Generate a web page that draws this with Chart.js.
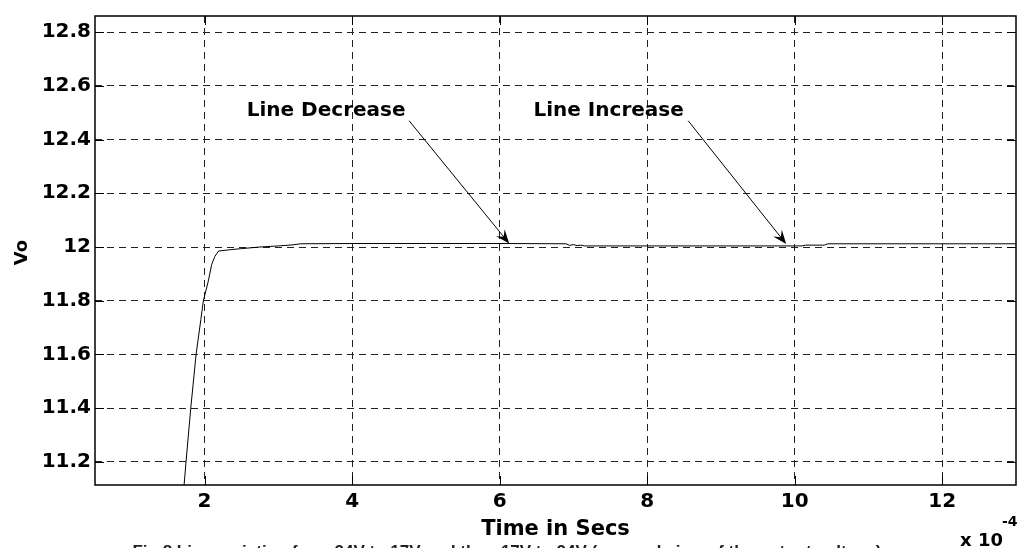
<!DOCTYPE html>
<html>
<head>
<meta charset="utf-8">
<script src="https://cdn.jsdelivr.net/npm/chart.js@4.4.1/dist/chart.umd.min.js"></script>
<style>
  html, body { margin: 0; padding: 0; background: #fff; }
  #wrap { width: 1019px; height: 548px; position: relative; }
</style>
</head>
<body>
<div id="wrap"><canvas id="c" width="1019" height="548"></canvas></div>
<script>
// ---- data (time in units of 1e-4 s, output voltage Vo in volts) ----
const timeValues = [1.70, 1.749, 1.813, 1.885, 1.95, 1.984, 2.05, 2.097, 2.14, 2.19, 2.35, 2.5, 2.75, 3.0, 3.2, 3.3, 4.0, 5.0, 6.1, 6.9, 6.95, 7.0, 7.05, 7.1, 7.15, 8.0, 9.0, 10.1, 10.15, 10.4, 10.45, 13.0];
const voValues   = [11.04, 11.2, 11.4, 11.6, 11.73, 11.8, 11.872, 11.935, 11.965, 11.985, 11.99, 11.994, 12.0, 12.004, 12.008, 12.012, 12.013, 12.013, 12.013, 12.012, 12.006, 12.009, 12.005, 12.007, 12.004, 12.004, 12.004, 12.004, 12.007, 12.007, 12.012, 12.012];
const xTickValues = [2, 4, 6, 8, 10, 12];
const yTickValues = [11.2, 11.4, 11.6, 11.8, 12, 12.2, 12.4, 12.6, 12.8];
const xRange = [0.515, 13.0];
const yRange = [11.114, 12.86];
const xAxisTitle = 'Time in Secs';
const yAxisTitle = 'Vo';
const xExponent = ['x 10', '-4'];
const caption = 'Fig.8 Line variation from 24V to 17V and then 17V to 24V (zoomed view of the output voltage)';
const annotations = [
  { text: 'Line Decrease', textX: 2.572, textY: 12.488, fromX: 4.773, fromY: 12.47, toX: 6.13, toY: 12.013 },
  { text: 'Line Increase', textX: 6.459, textY: 12.488, fromX: 8.556, fromY: 12.47, toX: 9.885, toY: 12.011 }
];

const points = timeValues.map((t, i) => ({ x: t, y: voValues[i] }));
const tickFont = { family: 'DejaVu Sans', size: 20, weight: 'bold' };

const decorPlugin = {
  id: 'decor',
  afterDraw(chart) {
    const { ctx, chartArea: { left, top, right, bottom }, scales: { x, y } } = chart;
    ctx.save();
    // axes box
    ctx.strokeStyle = '#000';
    ctx.lineWidth = 1.5;
    ctx.setLineDash([]);
    ctx.strokeRect(left, top, right - left, bottom - top);
    // inward tick marks on all sides
    ctx.lineWidth = 1;
    const tl = 9;
    ctx.beginPath();
    xTickValues.forEach(v => {
      const px = Math.round(x.getPixelForValue(v)) + 0.5;
      ctx.moveTo(px, bottom); ctx.lineTo(px, bottom - tl);
      ctx.moveTo(px, top); ctx.lineTo(px, top + tl);
    });
    yTickValues.forEach(v => {
      const py = Math.round(y.getPixelForValue(v)) + 0.5;
      ctx.moveTo(left, py); ctx.lineTo(left + tl, py);
      ctx.moveTo(right, py); ctx.lineTo(right - tl, py);
    });
    ctx.stroke();

    // annotations with arrows
    ctx.fillStyle = '#000';
    ctx.font = 'bold 20px "DejaVu Sans"';
    ctx.textAlign = 'left';
    ctx.textBaseline = 'alphabetic';
    annotations.forEach(a => {
      ctx.fillText(a.text, x.getPixelForValue(a.textX), y.getPixelForValue(a.textY));
      const x0 = x.getPixelForValue(a.fromX), y0 = y.getPixelForValue(a.fromY);
      const x1 = x.getPixelForValue(a.toX), y1 = y.getPixelForValue(a.toY);
      const dx = x1 - x0, dy = y1 - y0, len = Math.hypot(dx, dy);
      const ux = dx / len, uy = dy / len, nx = -uy, ny = ux;
      const L = 14, W = 5.5;
      ctx.beginPath();
      ctx.lineWidth = 1;
      ctx.moveTo(x0, y0);
      ctx.lineTo(x1 - ux * L * 0.6, y1 - uy * L * 0.6);
      ctx.stroke();
      ctx.beginPath();
      ctx.moveTo(x1, y1);
      ctx.lineTo(x1 - ux * L + nx * W, y1 - uy * L + ny * W);
      ctx.lineTo(x1 - ux * L * 0.62, y1 - uy * L * 0.62);
      ctx.lineTo(x1 - ux * L - nx * W, y1 - uy * L - ny * W);
      ctx.closePath();
      ctx.fill();
    });

    // x axis title
    ctx.font = 'bold 21px "DejaVu Sans"';
    ctx.textAlign = 'center';
    ctx.fillText(xAxisTitle, (left + right) / 2, 535);
    // y axis title (rotated)
    ctx.save();
    ctx.translate(27, (top + bottom) / 2 + 2);
    ctx.rotate(-Math.PI / 2);
    ctx.font = 'bold 18px "DejaVu Sans"';
    ctx.textAlign = 'center';
    ctx.fillText(yAxisTitle, 0, 0);
    ctx.restore();
    // exponent
    ctx.font = 'bold 18px "DejaVu Sans"';
    ctx.textAlign = 'right';
    ctx.fillText(xExponent[0], 1003, 546);
    ctx.font = 'bold 14px "DejaVu Sans"';
    ctx.textAlign = 'left';
    ctx.fillText(xExponent[1], 1002, 526);
    // caption (cut at the bottom edge as in the source)
    ctx.font = 'bold 17px "Liberation Sans"';
    ctx.textAlign = 'center';
    ctx.fillStyle = '#222';
    ctx.fillText(caption, 507, 557);
    ctx.restore();
  }
};

new Chart(document.getElementById('c'), {
  type: 'line',
  data: {
    datasets: [{
      data: points,
      borderColor: '#000',
      borderWidth: 1,
      pointRadius: 0,
      tension: 0,
      fill: false
    }]
  },
  options: {
    responsive: false,
    animation: false,
    devicePixelRatio: 1,
    layout: { padding: { left: 0, top: 10, right: 3, bottom: 0 } },
    plugins: { legend: { display: false }, tooltip: { enabled: false } },
    scales: {
      x: {
        type: 'linear',
        min: xRange[0], max: xRange[1],
        afterBuildTicks: s => { s.ticks = xTickValues.map(v => ({ value: v })); },
        afterFit: s => { s.height = 63; },
        grid: { color: '#222', lineWidth: 1, drawTicks: false },
        border: { display: false, dash: [7, 5] },
        ticks: { color: '#000', font: tickFont, padding: 5, maxRotation: 0, autoSkip: false,
                 callback: v => String(v) }
      },
      y: {
        type: 'linear',
        min: yRange[0], max: yRange[1],
        afterBuildTicks: s => { s.ticks = yTickValues.map(v => ({ value: v })); },
        afterFit: s => { s.width = 95; },
        grid: { color: '#222', lineWidth: 1, drawTicks: false },
        border: { display: false, dash: [7, 5] },
        ticks: { color: '#000', font: tickFont, padding: 4, autoSkip: false,
                 callback: v => (Math.round(v * 10) / 10).toString() }
      }
    }
  },
  plugins: [decorPlugin]
});
</script>
</body>
</html>
